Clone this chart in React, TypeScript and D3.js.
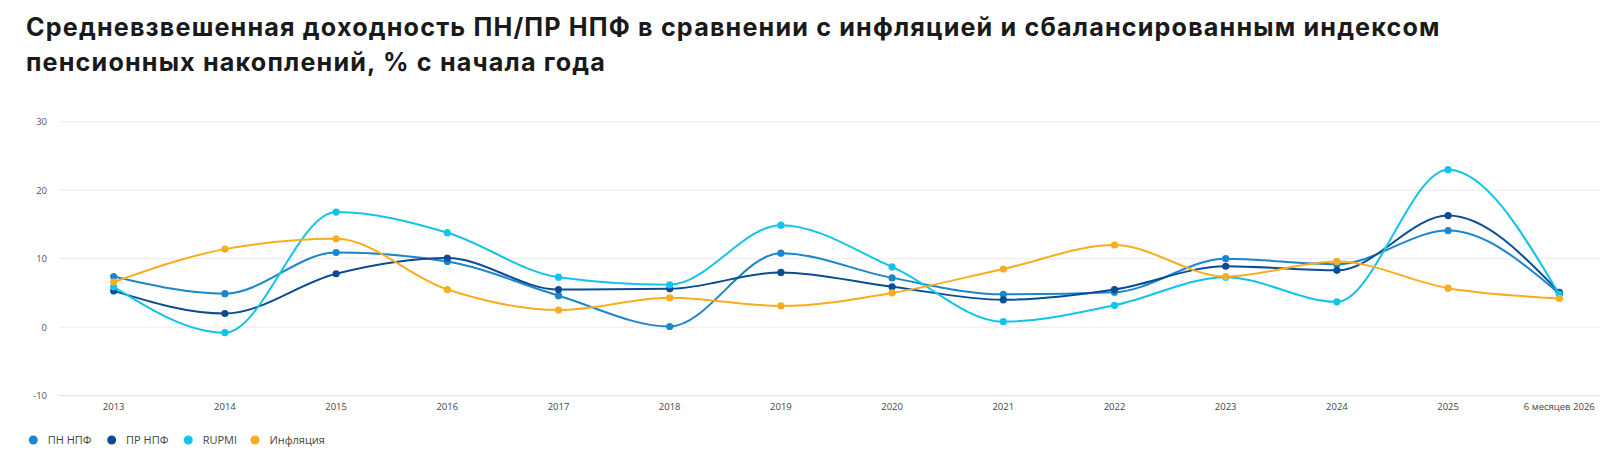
import React from 'react';
import * as d3 from 'd3';

// подписи по оси X
const years = ['2013', '2014', '2015', '2016', '2017', '2018', '2019', '2020', '2021', '2022', '2023', '2024', '2025', '6 месяцев 2026'];
const yTicks = [-10, 0, 10, 20, 30];

// значения, % с начала года
const pnNpf = [7.4, 4.9, 10.9, 9.6, 4.6, 0.1, 10.8, 7.2, 4.8, 5.1, 10.0, 9.2, 14.1, 4.9];
const prNpf = [5.3, 2.0, 7.8, 10.1, 5.5, 5.6, 8.0, 5.9, 4.0, 5.5, 8.9, 8.3, 16.3, 5.1];
const rupmi = [5.9, -0.8, 16.8, 13.8, 7.3, 6.2, 14.9, 8.8, 0.8, 3.2, 7.3, 3.7, 23.0, 4.8];
const inflation = [6.6, 11.4, 12.9, 5.5, 2.5, 4.3, 3.1, 5.0, 8.5, 12.0, 7.4, 9.6, 5.7, 4.2];

const seriesNames = ['ПН НПФ', 'ПР НПФ', 'RUPMI', 'Инфляция'];
const seriesColors = ['#1a87cc', '#0a4d96', '#13c4ea', '#f8ad1f'];
const seriesValues = [pnNpf, prNpf, rupmi, inflation];

const width = 1600;
const height = 461;

const App: React.FC = () => {
  const x = d3.scalePoint<string>().domain(years).range([113.7, 1559.3]);
  const y = d3.scaleLinear().domain([-10, 30]).range([395.7, 121.7]);

  const line = d3.line<number>()
    .x((_, i) => x(years[i]) as number)
    .y((d) => y(d))
    .curve(d3.curveMonotoneX);

  const legendX = [33.3, 111.7, 188.3, 255];

  return (
    <svg width={width} height={height} style={{ position: 'absolute', left: 0, top: 0 }}>
      <rect width={width} height={height} fill="#fff" />
      {/* заголовок */}
      <text x={26} y={36} fontFamily="Inter, Roboto, sans-serif" fontWeight={700} fontSize={25.2} letterSpacing={1.15} fill="#1a1a1a">
        Средневзвешенная доходность ПН/ПР НПФ в сравнении с инфляцией и сбалансированным индексом
      </text>
      <text x={26} y={71} fontFamily="Inter, Roboto, sans-serif" fontWeight={700} fontSize={25.2} letterSpacing={1.15} fill="#1a1a1a">
        пенсионных накоплений, % с начала года
      </text>

      {/* сетка и ось Y */}
      {yTicks.map((t) => (
        <g key={t}>
          <line x1={59} x2={width} y1={y(t)} y2={y(t)} stroke={t === -10 ? '#dcdfe7' : '#ececec'} strokeWidth={1} />
          <text x={47} y={y(t)} dy="0.35em" textAnchor="end" fontFamily="'Open Sans', sans-serif" fontSize={9.5} fill="#555">
            {t}
          </text>
        </g>
      ))}

      {/* ось X */}
      {years.map((yr) => (
        <text key={yr} x={x(yr)} y={407} dy="0.35em" textAnchor="middle" fontFamily="'Open Sans', sans-serif" fontSize={9.5} fill="#444">
          {yr}
        </text>
      ))}

      {/* линии */}
      {seriesValues.map((vals, s) => (
        <g key={seriesNames[s]}>
          <path d={line(vals) || ''} fill="none" stroke={seriesColors[s]} strokeWidth={2} />
          {vals.map((v, i) => (
            <circle key={i} cx={x(years[i])} cy={y(v)} r={3.6} fill={seriesColors[s]} />
          ))}
        </g>
      ))}

      {/* легенда */}
      {seriesNames.map((n, s) => (
        <g key={n}>
          <circle cx={legendX[s]} cy={440} r={4.5} fill={seriesColors[s]} />
          <text x={legendX[s] + 14.4} y={440} dy="0.35em" fontFamily="'Open Sans', sans-serif" fontSize={11} fill="#444">
            {n}
          </text>
        </g>
      ))}
    </svg>
  );
};

export default App;
